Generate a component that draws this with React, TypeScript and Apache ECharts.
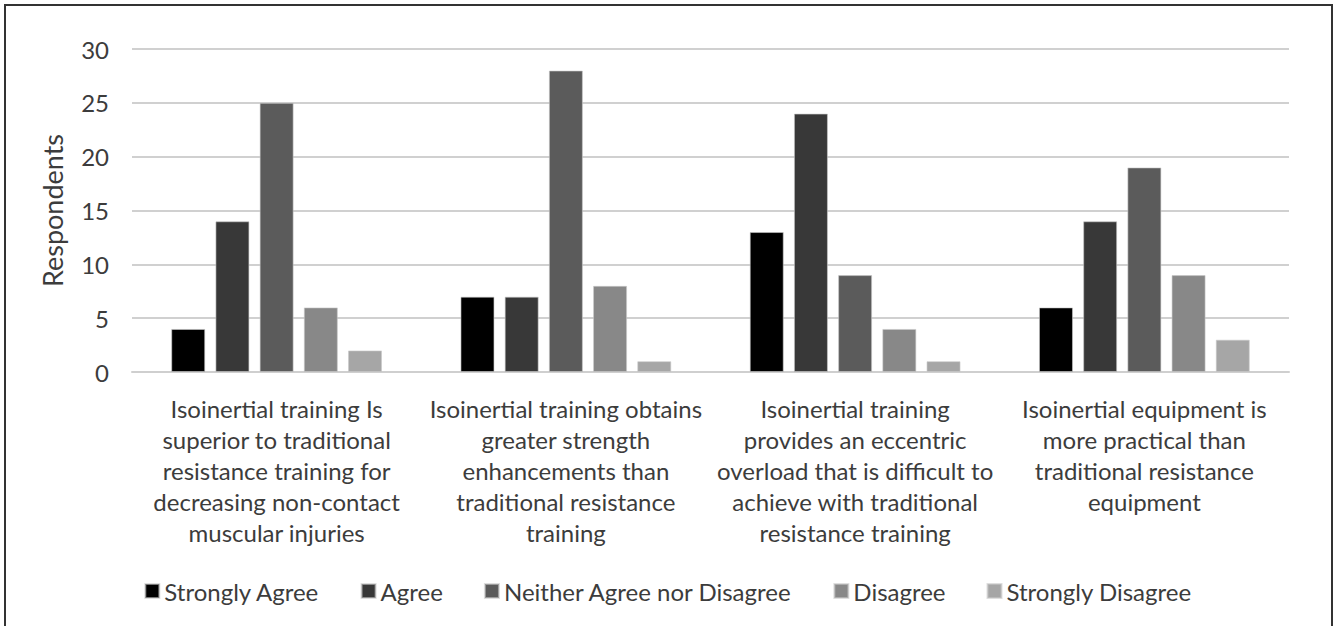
import React, { useEffect, useRef } from "react";
import * as echarts from "echarts";

const categories = [
  "Isoinertial training Is\nsuperior to traditional\nresistance training for\ndecreasing non-contact\nmuscular injuries",
  "Isoinertial training obtains\ngreater strength\nenhancements than\ntraditional resistance\ntraining",
  "Isoinertial training\nprovides an eccentric\noverload that is difficult to\nachieve with traditional\nresistance training",
  "Isoinertial equipment is\nmore practical than\ntraditional resistance\nequipment",
];

const seriesNames = [
  "Strongly Agree",
  "Agree",
  "Neither Agree nor Disagree",
  "Disagree",
  "Strongly Disagree",
];

const stronglyAgree = [4, 7, 13, 6];
const agree = [14, 7, 24, 14];
const neither = [25, 28, 9, 19];
const disagree = [6, 8, 4, 9];
const stronglyDisagree = [2, 1, 1, 3];

const seriesValues = [stronglyAgree, agree, neither, disagree, stronglyDisagree];
const seriesColors = ["#000000", "#383838", "#5b5b5b", "#888888", "#a6a6a6"];

const yTicks = { min: 0, max: 30, interval: 5 };

const FONT = "Lato, 'Open Sans', sans-serif";
const TEXT = "#3c3c3c";

export default function App() {
  const ref = useRef<HTMLDivElement>(null);

  useEffect(() => {
    if (!ref.current) return;
    const chart = echarts.init(ref.current, undefined, { renderer: "svg" });
    chart.setOption({
      animation: false,
      backgroundColor: "#ffffff",
      textStyle: { fontFamily: FONT },
      grid: { left: 132, right: 47, top: 49, bottom: 254, containLabel: false },
      legend: {
        data: seriesNames,
        left: "center",
        top: 574,
        icon: "rect",
        itemWidth: 14,
        itemHeight: 14,
        itemGap: 41,
        textStyle: { fontSize: 24, color: TEXT, fontFamily: FONT },
      },
      xAxis: {
        type: "category",
        data: categories,
        axisTick: { show: false },
        axisLine: { lineStyle: { color: "#cfcfcf", width: 2 } },
        axisLabel: {
          color: TEXT,
          fontSize: 24,
          lineHeight: 31,
          margin: 21,
          interval: 0,
          align: "center",
          fontFamily: FONT,
        },
      },
      yAxis: {
        type: "value",
        min: yTicks.min,
        max: yTicks.max,
        interval: yTicks.interval,
        name: "Respondents",
        nameLocation: "middle",
        nameGap: 66,
        nameTextStyle: { color: TEXT, fontSize: 27, fontFamily: FONT },
        axisLine: { show: false },
        axisTick: { show: false },
        axisLabel: { color: TEXT, fontSize: 24, margin: 23, fontFamily: FONT },
        splitLine: { lineStyle: { color: "#d0d0d0", width: 2 } },
      },
      series: seriesValues.map((vals, i) => ({
        name: seriesNames[i],
        type: "bar",
        data: vals,
        barWidth: 34,
        barGap: "30%",
        itemStyle: {
          color: seriesColors[i],
          borderColor: "rgba(200,200,200,0.6)",
          borderWidth: 1,
        },
      })),
      graphic: [
        {
          type: "rect",
          shape: { x: 5, y: 5, width: 1327, height: 660 },
          style: { fill: "none", stroke: "#333333", lineWidth: 2 },
          silent: true,
        },
      ],
    });
    return () => chart.dispose();
  }, []);

  return (
    <div
      ref={ref}
      style={{ position: "fixed", left: 0, top: 0, width: 1336, height: 626 }}
    />
  );
}
